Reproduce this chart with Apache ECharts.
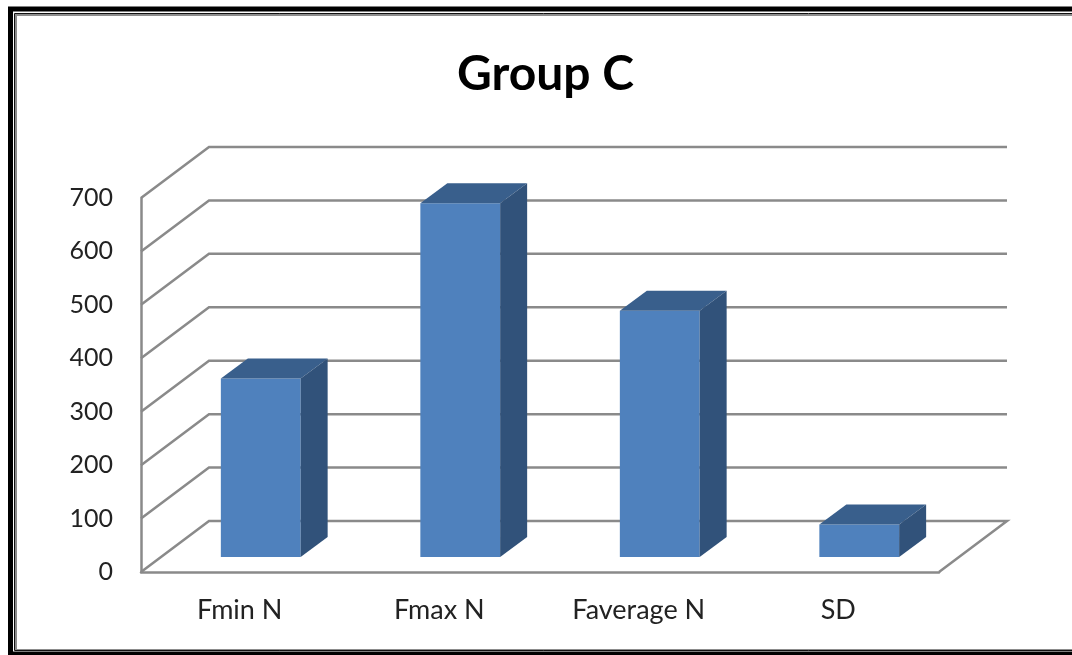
<!DOCTYPE html>
<html>
<head>
<meta charset="utf-8">
<style>html,body{margin:0;padding:0;background:#fff}#c{width:1072px;height:655px}</style>
<script src="https://cdn.jsdelivr.net/npm/echarts@6/dist/echarts.min.js"></script>
</head>
<body>
<div id="c"></div>
<script>
const categories = ['Fmin N', 'Fmax N', 'Faverage N', 'SD'];
const values = [334, 662, 461, 61];
const gridValues = [0, 100, 200, 300, 400, 500, 600, 700];

const FONT = 'Lato, "Open Sans", sans-serif';
const WALL = [68, -51];      // depth offset of the back wall
const BAR_FRONT = [20, -15]; // floor offset of a bar's front face
const BAR_DEPTH = [27, -20]; // depth of a bar
const GRID_COLOR = '#8a8a8a';

function renderWall(params, api) {
  const v = api.value(1);
  const y = api.coord([0, v])[1];
  const cs = params.coordSys;
  const x0 = cs.x, x1 = cs.x + cs.width;
  const pts = [[x0, y], [x0 + WALL[0], y + WALL[1]], [x1 + WALL[0], y + WALL[1]]];
  if (v === 0) pts.push([x1, y]);
  return {
    type: 'polyline',
    shape: { points: pts },
    style: { stroke: GRID_COLOR, fill: 'none', lineWidth: 2.5 },
    silent: true
  };
}

function renderBar(params, api) {
  const idx = api.value(0);
  const top = api.coord([idx, api.value(1)]);
  const base = api.coord([idx, 0]);
  const w = api.size([1, 0])[0] * 0.4;
  const xl = top[0] + BAR_FRONT[0] - w / 2;
  const xr = xl + w;
  const yb = base[1] + BAR_FRONT[1];
  const yt = top[1] + BAR_FRONT[1];
  const dx = BAR_DEPTH[0], dy = BAR_DEPTH[1];
  return {
    type: 'group',
    children: [
      { type: 'polygon', shape: { points: [[xl, yb], [xr, yb], [xr, yt], [xl, yt]] },
        style: { fill: '#4f81bd' } },
      { type: 'polygon', shape: { points: [[xl, yt], [xr, yt], [xr + dx, yt + dy], [xl + dx, yt + dy]] },
        style: { fill: '#395f8c' } },
      { type: 'polygon', shape: { points: [[xr, yb], [xr + dx, yb + dy], [xr + dx, yt + dy], [xr, yt]] },
        style: { fill: '#31527a' } }
    ]
  };
}

const chart = echarts.init(document.getElementById('c'), null, { renderer: 'canvas' });
chart.setOption({
  animation: false,
  backgroundColor: '#ffffff',
  title: {
    text: 'Group C',
    left: 540.5, top: 46, textAlign: 'center',
    textStyle: { fontFamily: FONT, fontWeight: 'bold', fontSize: 48, color: '#000' }
  },
  grid: { left: 141, top: 198, width: 798, height: 374 },
  xAxis: {
    type: 'category',
    data: categories,
    axisTick: { show: false },
    axisLine: { lineStyle: { color: GRID_COLOR, width: 2.5 } },
    axisLabel: { fontFamily: FONT, fontSize: 27, color: '#222', margin: 25, padding: [0, 2, 0, 0] }
  },
  yAxis: {
    type: 'value', min: 0, max: 700, interval: 100,
    splitLine: { show: false },
    axisTick: { show: false },
    axisLine: { show: true, lineStyle: { color: GRID_COLOR, width: 2.5 } },
    axisLabel: { fontFamily: FONT, fontSize: 25, color: '#222', margin: 28, padding: [2, 0, 0, 0] }
  },
  series: [
    { type: 'custom', renderItem: renderWall, silent: true, z: 1,
      data: gridValues.map(v => [0, v]), encode: { x: 0, y: 1 } },
    { type: 'custom', renderItem: renderBar, z: 2,
      data: values.map((v, i) => [i, v]), encode: { x: 0, y: 1 } }
  ],
  graphic: [
    { type: 'rect', silent: true, z: 100, shape: { x: 10.5, y: 9, width: 1200, height: 645 },
      style: { fill: 'none', stroke: '#000', lineWidth: 5 } },
    { type: 'rect', silent: true, z: 100, shape: { x: 16, y: 15, width: 1200, height: 635 },
      style: { fill: 'none', stroke: '#8c8c8c', lineWidth: 2 } },
    { type: 'rect', silent: true, z: 100, shape: { x: 14.5, y: 13.5, width: 1200, height: 637 },
      style: { fill: 'none', stroke: '#111', lineWidth: 1 } }
  ]
});
</script>
</body>
</html>
